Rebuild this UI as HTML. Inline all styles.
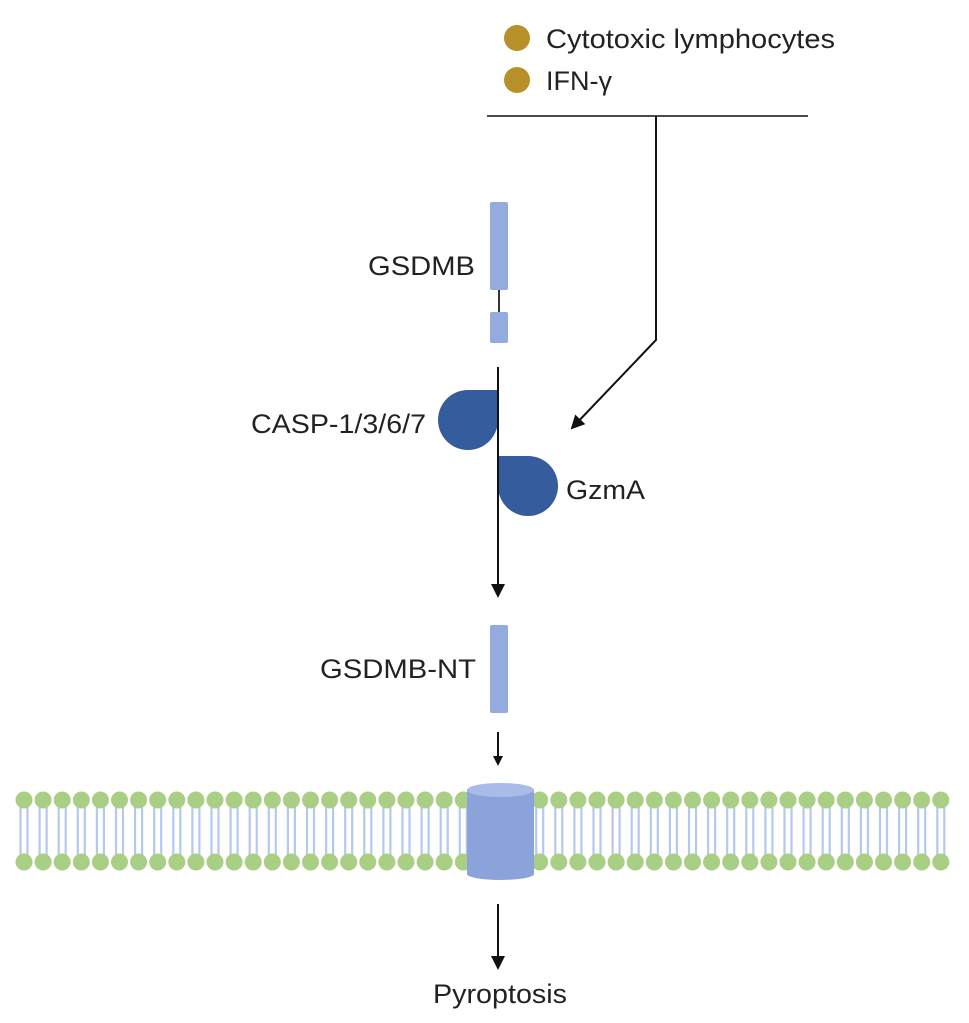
<!DOCTYPE html>
<html><head><style>
html,body{margin:0;padding:0;background:#fff;}
svg{display:block}
text{font-family:"Liberation Sans",sans-serif;fill:#222;}
</style></head><body>
<svg id="s" width="969" height="1023" viewBox="0 0 969 1023" xmlns="http://www.w3.org/2000/svg">
<defs>
<marker id="ah" markerWidth="10" markerHeight="10" refX="8" refY="5" orient="auto" markerUnits="userSpaceOnUse">
<path d="M0,0 L10,5 L0,10 z" fill="#111"/></marker>
<marker id="ah2" markerWidth="14" markerHeight="14" refX="12" refY="7" orient="auto" markerUnits="userSpaceOnUse">
<path d="M0,0 L14,7 L0,14 z" fill="#111"/></marker>
</defs>
<circle cx="517" cy="38" r="13" fill="#b8902a"/>
<text x="546" y="48" font-size="27" textLength="289" lengthAdjust="spacingAndGlyphs">Cytotoxic lymphocytes</text>
<circle cx="517" cy="80" r="13" fill="#b8902a"/>
<text x="546" y="90" font-size="27">IFN-γ</text>
<line x1="487" y1="116" x2="808" y2="116" stroke="#111" stroke-width="1.6"/>
<polyline points="656,116 656,340 572,428" fill="none" stroke="#111" stroke-width="2" marker-end="url(#ah2)"/>
<text x="368" y="275" font-size="27" textLength="107" lengthAdjust="spacingAndGlyphs">GSDMB</text>
<line x1="499" y1="288" x2="499" y2="313" stroke="#333" stroke-width="2"/>
<rect x="490" y="202" width="18" height="88" rx="2" fill="#94abdf"/>
<rect x="490" y="312" width="18" height="31" rx="2" fill="#94abdf"/>
<path d="M498,390 L498,420 A30,30 0 1 1 468,390 Z" fill="#355c9c"/>
<path d="M498,456 L528,456 A30,30 0 1 1 498,486 Z" fill="#355c9c"/>
<line x1="498" y1="367" x2="498" y2="596" stroke="#111" stroke-width="2" marker-end="url(#ah2)"/>
<text x="251" y="433" font-size="27" textLength="175" lengthAdjust="spacingAndGlyphs">CASP-1/3/6/7</text>
<text x="566" y="499" font-size="27" textLength="79" lengthAdjust="spacingAndGlyphs">GzmA</text>
<text x="320" y="678" font-size="27" textLength="156" lengthAdjust="spacingAndGlyphs">GSDMB-NT</text>
<rect x="490" y="625" width="18" height="88" rx="2" fill="#94abdf"/>
<line x1="498" y1="732" x2="498" y2="764" stroke="#111" stroke-width="2" marker-end="url(#ah)"/>
<g id="mem"></g>
<rect x="467" y="790" width="67" height="84" fill="#8ca2da"/>
<ellipse cx="500.5" cy="874" rx="33.5" ry="6" fill="#8ca2da"/>
<ellipse cx="500.5" cy="790" rx="33.5" ry="7" fill="#a9bbe8"/>
<line x1="498" y1="904" x2="498" y2="968" stroke="#111" stroke-width="2" marker-end="url(#ah2)"/>
<text x="433" y="1003" font-size="27" textLength="134" lengthAdjust="spacingAndGlyphs">Pyroptosis</text>
</svg>
<script>
var g=document.getElementById('mem'),h='';
for(var i=0;i<49;i++){var x=24+i*19.1;
h+='<line x1="'+(x-3.5)+'" y1="806" x2="'+(x-3.5)+'" y2="856" stroke="#b5c8ee" stroke-width="2.2"/>';
h+='<line x1="'+(x+3.5)+'" y1="806" x2="'+(x+3.5)+'" y2="856" stroke="#b5c8ee" stroke-width="2.2"/>';
h+='<circle cx="'+x+'" cy="800" r="8.5" fill="#a9cf85"/><circle cx="'+x+'" cy="862" r="8.5" fill="#a9cf85"/>';}
g.innerHTML=h;
</script>
</body></html>
